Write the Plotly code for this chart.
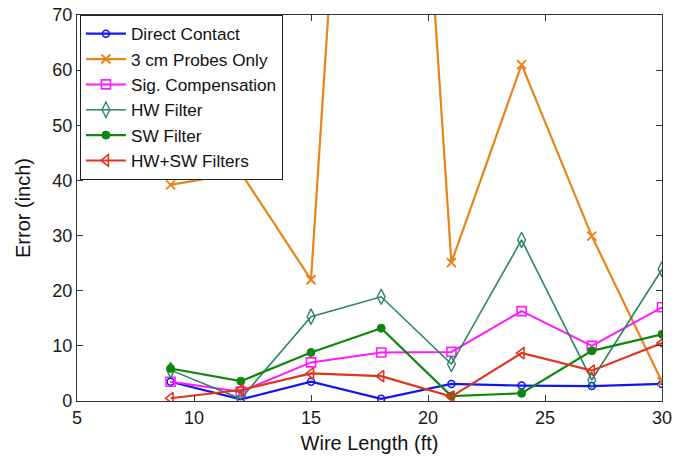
import plotly.graph_objects as go

# Wire length (ft) at which each measurement was taken
wire_length = [9, 12, 15, 18, 21, 24, 27, 30]

# Position error (inch) for each measurement method
direct_contact = [3.5, 0.3, 3.5, 0.4, 3.1, 2.8, 2.7, 3.1]
probes_3cm = [39.2, 41.4, 22.0, 218.0, 25.1, 61.0, 29.9, 3.5]
sig_compensation = [3.5, 1.7, 7.0, 8.8, 8.9, 16.3, 10.0, 17.0]
hw_filter = [5.6, 0.4, 15.3, 18.9, 6.7, 29.2, 3.8, 23.9]
sw_filter = [5.9, 3.6, 8.8, 13.2, 0.9, 1.4, 9.1, 12.1]
hw_sw_filters = [0.5, 2.0, 5.0, 4.5, 0.8, 8.7, 5.5, 10.5]

x_ticks = [5, 10, 15, 20, 25, 30]
y_ticks = [0, 10, 20, 30, 40, 50, 60, 70]

series = [
    ("Direct Contact", direct_contact, "#1414F0", "circle-open", 7, 2.2, 1.5),
    ("3 cm Probes Only", probes_3cm, "#E8841A", "x-thin-open", 9, 2.2, 2),
    ("Sig. Compensation", sig_compensation, "#FF1AFF", "square-open", 9, 2, 1.6),
    ("HW Filter", hw_filter, "#2A8560", "diamond-tall-open", 11, 1.6, 1.4),
    ("SW Filter", sw_filter, "#0F870F", "circle", 8, 2.2, 1),
    ("HW+SW Filters", hw_sw_filters, "#E0341E", "triangle-left-open", 10, 2.2, 1.6),
]

fig = go.Figure()
for name, values, color, symbol, msize, lwidth, mlw in series:
    fig.add_trace(go.Scatter(
        x=wire_length, y=values, name=name, mode="lines+markers",
        line=dict(color=color, width=lwidth),
        marker=dict(symbol=symbol, size=msize, color=color,
                    line=dict(color=color, width=mlw)),
        cliponaxis=True,
    ))

axis_common = dict(
    showline=True, linecolor="#333333", linewidth=1.2, mirror="ticks",
    ticks="inside", ticklen=6, tickcolor="#333333", showgrid=False,
    zeroline=False, automargin=False,
    tickfont=dict(family="Liberation Sans, Arial", size=18, color="#1a1a1a"),
)

fig.update_layout(
    width=686, height=457,
    margin=dict(l=77, r=24, t=15, b=56),
    paper_bgcolor="white", plot_bgcolor="white",
    showlegend=True,
    legend=dict(
        x=0.005, y=1.0, xanchor="left", yanchor="top",
        bgcolor="white", bordercolor="#222222", borderwidth=1,
        font=dict(family="Liberation Sans, Arial", size=17.2, color="#111111"),
        itemwidth=40, tracegroupgap=0,
    ),
    xaxis=dict(
        range=[5, 30], tickvals=x_ticks, ticktext=[str(v) for v in x_ticks],
        title=dict(text="Wire Length (ft)", standoff=9,
                   font=dict(family="Liberation Sans, Arial", size=20, color="#111111")),
        **axis_common,
    ),
    yaxis=dict(
        range=[0, 70], tickvals=y_ticks, ticktext=[str(v) for v in y_ticks],
        title=dict(text="Error (inch)", standoff=16,
                   font=dict(family="Liberation Sans, Arial", size=20, color="#111111")),
        **axis_common,
    ),
)

fig.write_html("out.html")
